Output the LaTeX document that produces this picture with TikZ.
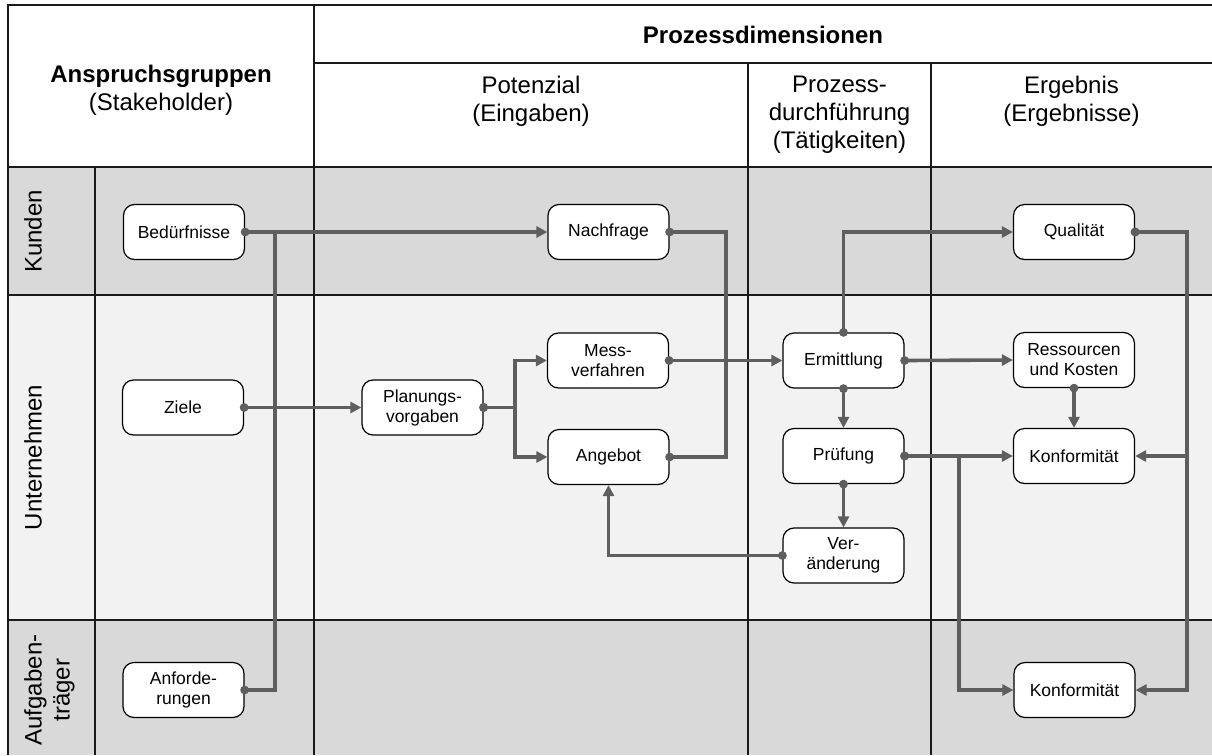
\documentclass[tikz,border=0pt]{standalone}
\usepackage{fontspec}
\setmainfont{Liberation Sans}
\usetikzlibrary{arrows.meta}
\definecolor{rowdark}{HTML}{D9D9D9}
\definecolor{rowlight}{HTML}{F2F2F2}
\definecolor{flowgray}{HTML}{5E5E5E}
\definecolor{rulegray}{HTML}{1A1A1A}

\begin{document}
\begin{tikzpicture}[x=1pt,y=-1pt,
  rule/.style={draw=rulegray, line width=1.5pt},
  box/.style={draw=black, fill=white, rounded corners=11pt, line width=1.2pt,
    minimum width=121pt, minimum height=55pt, inner sep=0pt, align=center,
    font=\fontsize{17.5}{20}\selectfont},
  head/.style={inner sep=0pt, align=center, font=\fontsize{24}{28}\selectfont},
  lane/.style={head, rotate=90, anchor=north},
  flow/.style={draw=flowgray, line width=3.6pt,
    {Circle[length=8.5pt]}-{Triangle[length=11pt,width=11pt]}, shorten <=-4.25pt},
  merge/.style={draw=flowgray, line width=3.6pt, {Circle[length=8.5pt]}-, shorten <=-4.25pt}
]
\useasboundingbox (0,0) rectangle (1212,755);

% lane backgrounds
\fill[white] (8,5) rectangle (1212,167);
\fill[rowdark] (8,167) rectangle (1212,295);
\fill[rowlight] (8,295) rectangle (1212,620);
\fill[rowdark] (8,620) rectangle (1212,755);

% table rules
\draw[rule] (1212,5) -- (8,5) -- (8,755);
\draw[rule] (314,5) -- (314,755);
\draw[rule] (314,63) -- (1212,63);
\draw[rule] (748,63) -- (748,755);
\draw[rule] (931,63) -- (931,755);
\draw[rule] (8,167) -- (1212,167);
\draw[rule] (8,295) -- (1212,295);
\draw[rule] (8,620) -- (1212,620);
\draw[rule] (95,167) -- (95,755);

% headings
\node[head] (hs) at (161,90) {\textbf{Anspruchsgruppen}\\(Stakeholder)};
\node[head, font=\fontsize{24}{28}\selectfont\bfseries] (hp) at (763,35) {Prozessdimensionen};
\node[head, anchor=north] (hpot) at (531,76) {Potenzial\\(Eingaben)};
\node[head, anchor=north] (hdur) at (839.5,76) {Prozess-\\durchführung\\(Tätigkeiten)};
\node[head, anchor=north] (herg) at (1071.5,76) {Ergebnis\\(Ergebnisse)};

% lane labels
\node[lane] (lk) at (24,231.5) {Kunden};
\node[lane] (lu) at (24,457.5) {Unternehmen};
\node[lane] (la) at (24,690) {Aufgaben-\\träger};

% process boxes
\node[box] (bed) at (184,232) {Bedürfnisse};
\node[box] (nach) at (608.5,232) {Nachfrage};
\node[box] (qual) at (1074,232) {Qualität};
\node[box] (mess) at (608,360.5) {Mess-\\verfahren};
\node[box] (erm) at (843.5,360.5) {Ermittlung};
\node[box] (res) at (1074,360) {Ressourcen\\und Kosten};
\node[box] (ziele) at (183,407.5) {Ziele};
\node[box] (plan) at (422.5,407.5) {Planungs-\\vorgaben};
\node[box] (ang) at (608.5,457) {Angebot};
\node[box] (pruf) at (843.5,456) {Prüfung};
\node[box] (konf) at (1074,456) {Konformität};
\node[box] (ver) at (843.5,555.5) {Ver-\\änderung};
\node[box] (anf) at (183.5,690) {Anforde-\\rungen};
\node[box] (konfb) at (1074.5,690) {Konformität};

% connectors
\draw[flow] (bed.east) -- (nach.west);
\draw[merge] (anf.east) -| (275,232);
\draw[merge] (nach.east) -| (726,360.5);
\draw[merge] (ang.east) -| (726,360.5);
\draw[flow] (mess.east) -- (erm.west);
\draw[flow] (ziele.east) -- (plan.west);
\draw[flow] (plan.east) -- (515,407.5) |- (mess.west);
\draw[flow] (plan.east) -- (515,407.5) |- (ang.west);
\draw[flow] (ver.west) -| (ang.south);
\draw[flow] (erm.north) |- (qual.west);
\draw[flow] (erm.east) -- (res.west);
\draw[flow] (erm.south) -- (pruf.north);
\draw[flow] (pruf.south) -- (ver.north);
\draw[flow] (pruf.east) -- (konf.west);
\draw[flow] (pruf.east) -- (959,456) |- (konfb.west);
\draw[flow] (res.south) -- (konf.north);
\draw[flow] (qual.east) -| (1187,456) -- (konf.east);
\draw[flow] (qual.east) -| (1187,690) -- (konfb.east);
\end{tikzpicture}
\end{document}
